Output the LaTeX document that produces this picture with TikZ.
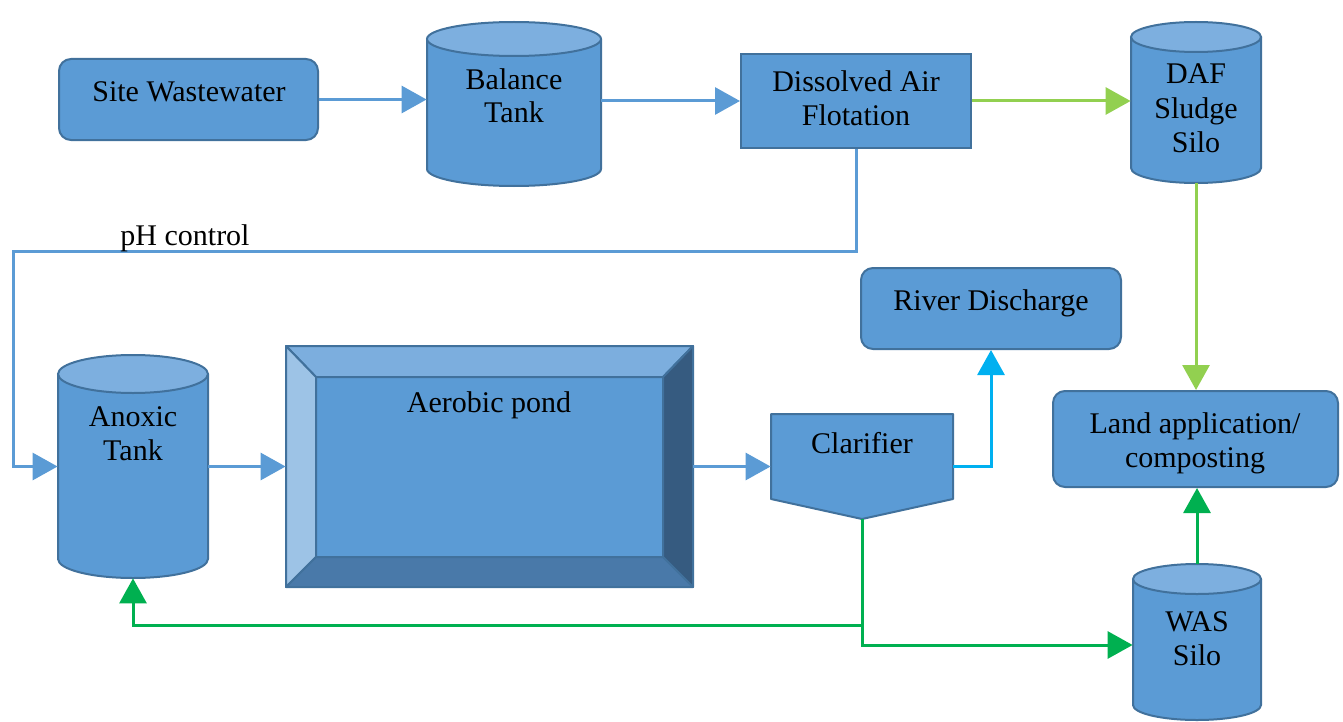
\documentclass[tikz,border=0pt]{standalone}
\usepackage{fontspec}
\setmainfont{Liberation Serif}
\usetikzlibrary{arrows.meta,fit,calc}

\definecolor{procfill}{HTML}{5B9BD5}
\definecolor{procedge}{HTML}{41719C}
\definecolor{lidfill}{HTML}{7DAFDF}
\definecolor{bevtop}{HTML}{7CAEDE}
\definecolor{bevleft}{HTML}{9DC3E6}
\definecolor{bevright}{HTML}{365B80}
\definecolor{bevbottom}{HTML}{4979A9}
\definecolor{flowblue}{HTML}{5B9BD5}
\definecolor{sludgegreen}{HTML}{92D050}
\definecolor{wasgreen}{HTML}{00B050}
\definecolor{rivercyan}{HTML}{00B0F0}

\tikzset{
  roundbox/.style={draw=procedge, fill=procfill, line width=1pt, rounded corners=6pt, inner sep=0pt},
  squarebox/.style={draw=procedge, fill=procfill, line width=1pt, inner sep=0pt},
  tankfill/.style={fill=procfill},
  tankedge/.style={draw=procedge, line width=1pt},
  tanklid/.style={draw=procedge, fill=lidfill, line width=1pt},
  % anchor=base sits on the baseline of the last line
  lbl/.style={font=\fontsize{15}{17}\selectfont, align=center, anchor=base, inner sep=0pt},
  flowline/.style={line width=1.5pt, -{Triangle[length=12.5pt,width=13.5pt]}},
  blueflow/.style={flowline, draw=flowblue},
  lightflow/.style={flowline, draw=sludgegreen},
  greenflow/.style={flowline, draw=wasgreen},
  cyanflow/.style={flowline, draw=rivercyan},
}

% cylinder: name, centre x, top y, bottom y, half width, lid half height
\newcommand\drawtank[6]{%
  \pgfmathsetlengthmacro\tkrx{#5*0.5pt}%
  \pgfmathsetlengthmacro\tkry{#6*0.5pt}%
  \node[inner sep=0pt, fit={(#2-#5,#3) (#2+#5,#4)}] (#1) {};
  \fill[tankfill] (#2-#5,#3+#6) -- (#2-#5,#4-#6)
    arc[start angle=180, end angle=360, x radius=\tkrx, y radius=\tkry]
    -- (#2+#5,#3+#6) -- cycle;
  \draw[tankedge] (#2-#5,#3+#6) -- (#2-#5,#4-#6)
    arc[start angle=180, end angle=360, x radius=\tkrx, y radius=\tkry]
    -- (#2+#5,#3+#6);
  \filldraw[tanklid] (#2,#3+#6) ellipse[x radius=\tkrx, y radius=\tkry];
}

\begin{document}
\begin{tikzpicture}[x=0.5pt, y=-0.5pt]
\useasboundingbox (0,0) rectangle (1343,722);

% ---- process units ----
\node[roundbox, fit={(59,59) (318,140)}] (site) {};
\node[lbl] (siteT) at (189,102) {Site Wastewater};

\drawtank{bal}{514}{22}{186}{87}{17}
\node[lbl] (balT) at (514,123) {Balance\\Tank};

\node[squarebox, fit={(741,54) (971,148)}] (daf) {};
\node[lbl] (dafT) at (856,126) {Dissolved Air\\Flotation};

\drawtank{silo}{1196}{22}{183}{65}{15}
\node[lbl] (siloT) at (1196,152) {DAF\\Sludge\\Silo};

\node[roundbox, fit={(861,268) (1121,349)}] (river) {};
\node[lbl] (riverT) at (991,310) {River Discharge};

\node[roundbox, fit={(1053,391) (1338,487)}] (land) {};
\node[lbl] (landT) at (1195,467) {Land application/\\composting};

\drawtank{anox}{133}{355}{578}{75}{19}
\node[lbl] (anoxT) at (133,460) {Anoxic\\Tank};

\drawtank{was}{1197}{564}{720}{64}{15}
\node[lbl] (wasT) at (1197,665) {WAS\\Silo};

% aerobic pond: bevelled basin
\node[inner sep=0pt, fit={(286,346) (693,587)}] (pond) {};
\begin{scope}[draw=procedge, line width=1pt, line join=round]
  \filldraw[fill=procfill] (316,377) rectangle (663,557);
  \filldraw[fill=bevtop] (286,346) -- (693,346) -- (663,377) -- (316,377) -- cycle;
  \filldraw[fill=bevleft] (286,346) -- (316,377) -- (316,557) -- (286,587) -- cycle;
  \filldraw[fill=bevright] (693,346) -- (693,587) -- (663,557) -- (663,377) -- cycle;
  \filldraw[fill=bevbottom] (286,587) -- (693,587) -- (663,557) -- (316,557) -- cycle;
\end{scope}
\node[lbl] (pondT) at (489,412) {Aerobic pond};

% clarifier: box with a hopper bottom
\node[inner sep=0pt, fit={(771,414) (953,519)}] (clar) {};
\filldraw[draw=procedge, fill=procfill, line width=1pt, line join=round]
  (771,414) -- (953,414) -- (953,499) -- (862,519) -- (771,499) -- cycle;
\node[lbl] (clarT) at (862,453) {Clarifier};

% ---- connectors ----
\draw[blueflow] (site.east) -- (site.east -| bal.west);
\draw[blueflow] (daf.west -| bal.east) -- (daf.west);
\draw[lightflow] (daf.east) -- (daf.east -| silo.west);
\draw[lightflow] (silo.south) -- (silo.south |- land.north);
\draw[greenflow] (was.north) -- (was.north |- land.south);

\coordinate (phturn) at (13,251);
\draw[blueflow] (daf.south) |- (phturn) |- (anox.west);
\node[lbl] (phT) at (185,245) {pH control};

\draw[blueflow] (anox.east) -- (anox.east -| pond.west);
\draw[blueflow] (pond.east) -- (pond.east -| clar.west);
\draw[cyanflow] (clar.east) -| (river.south);

\coordinate (gsplit) at (862,625);
\coordinate (gwas) at (862,645);
\draw[greenflow] (clar.south) -- (gsplit) -| (anox.south);
\draw[greenflow] (gsplit) -- (gwas) -- (gwas -| was.west);
\end{tikzpicture}
\end{document}
